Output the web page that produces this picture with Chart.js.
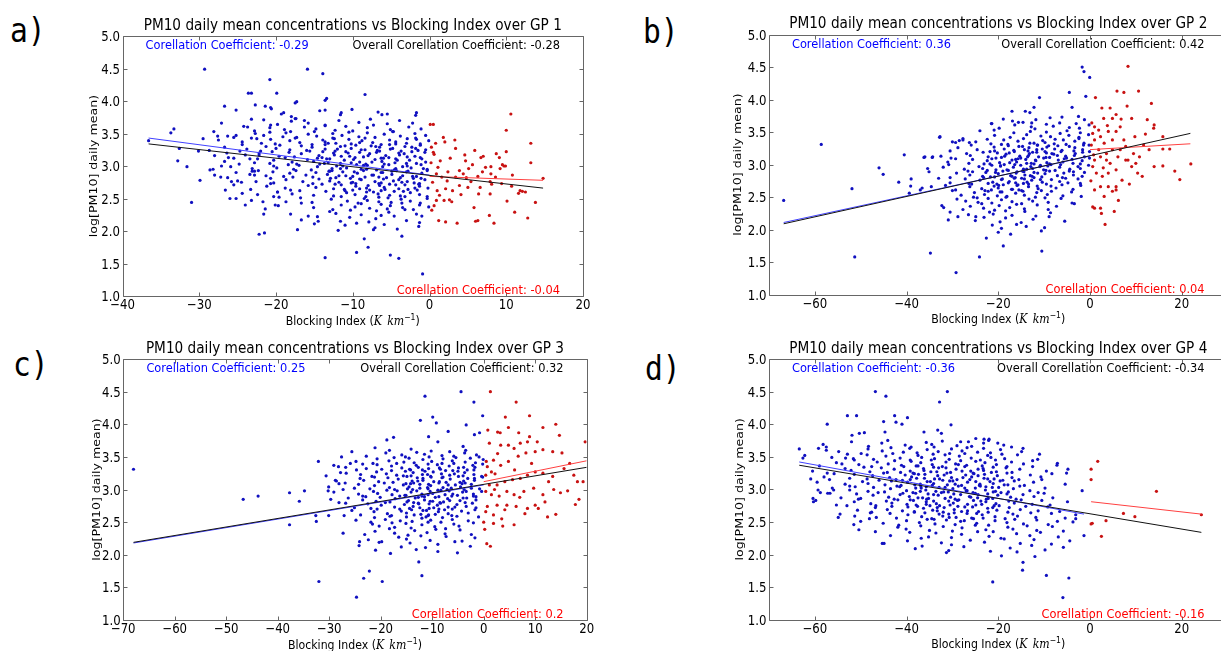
<!DOCTYPE html>
<html>
<head>
<meta charset="utf-8">
<script src="https://cdn.jsdelivr.net/npm/chart.js@4.4.1/dist/chart.umd.min.js"></script>
<style>
  body { margin: 0; width: 1221px; height: 651px; overflow: hidden; background: #fff; position: relative; }
  canvas { position: absolute; }
  .tag { position: absolute; font: 34px "DejaVu Sans Mono", monospace; line-height: 34px; color: #000; transform: scaleX(0.87); transform-origin: left top; }
</style>
</head>
<body>
<div class="tag" style="left:10px;top:13px">a)</div>
<div class="tag" style="left:643px;top:14px">b)</div>
<div class="tag" style="left:13px;top:347px">c)</div>
<div class="tag" style="left:645px;top:351px">d)</div>
<canvas id="gp1" width="610" height="330" style="left:0;top:0"></canvas>
<canvas id="gp2" width="620" height="330" style="left:620px;top:0"></canvas>
<canvas id="gp3" width="610" height="330" style="left:0;top:325px"></canvas>
<canvas id="gp4" width="620" height="330" style="left:620px;top:325px"></canvas>
<script>
// ---- tick labels / texts ----
const yTicks = [1.0, 1.5, 2.0, 2.5, 3.0, 3.5, 4.0, 4.5, 5.0];
const xTicks1 = [-40, -30, -20, -10, 0, 10, 20];
const xTicks2 = [-60, -40, -20, 0, 20];
const xTicks3 = [-70, -60, -50, -40, -30, -20, -10, 0, 10, 20];
const xTicks4 = [-60, -40, -20, 0, 20];
const xRanges = [[-40, 20], [-70, 30], [-70, 20], [-70, 30]];
const gpNames = ['GP 1', 'GP 2', 'GP 3', 'GP 4'];
const blueCoef = ['-0.29', '0.36', '0.25', '-0.36'];
const allCoef = ['-0.28', '0.42', '0.32', '-0.34'];
const redCoef = ['-0.04', '0.04', '0.2', '-0.16'];

// ---- GP 1 ----
const gp1Blue = [
  [-36.6,3.39],[-33.7,3.51],[-33.3,3.57],[-32.6,3.27],[-32.8,3.08],[-31.6,2.99],[-31.0,2.44],[-29.9,2.78],[-30.1,3.23],[-29.3,4.49],
  [-29.5,3.42],[-28.6,2.94],[-28.2,2.95],[-28.0,2.86],[-27.6,3.46],[-27.1,3.66],[-27.1,3.00],[-26.7,3.92],[-26.4,3.20],[-26.0,2.50],
  [-25.8,2.76],[-25.5,3.44],[-25.2,3.47],[-25.2,3.86],[-25.0,2.77],[-24.7,3.23],[-24.4,2.58],[-24.0,2.40],[-24.0,3.17],[-23.6,4.12],
  [-23.2,4.12],[-23.7,3.60],[-23.4,3.11],[-23.2,3.72],[-23.1,2.92],[-22.8,2.86],[-22.7,3.94],[-22.6,2.76],[-22.2,1.95],[-21.5,1.97],
  [-21.6,2.26],[-21.7,2.45],[-20.8,4.33],[-20.6,3.88],[-20.1,2.40],[-19.9,4.12],[-19.8,2.60],[-19.0,3.82],[-17.2,2.02],[-17.5,3.97],
  [-17.3,3.99],[-15.9,4.49],[-13.9,4.42],[-13.4,4.04],[-15.0,2.11],[-14.5,2.15],[-13.6,1.59],[-11.5,3.82],[-10.1,3.87],[-8.4,4.10],
  [-8.5,1.88],[-8.0,1.75],[-9.5,1.67],[-5.1,1.63],[-4.0,1.58],[-0.9,1.34],[-1.7,3.82],
  [-13.6,4.01],[-19.3,3.80],[-18.0,3.76],[-17.5,3.73],[-16.3,3.70],[-14.3,3.85],[-13.6,3.86],[-11.6,3.79],[-6.7,3.83],[-6.2,3.79],
  [-5.5,3.80],[-1.8,3.78],[-21.4,3.92],[-20.7,3.90],
  [-21.6,3.71],[-19.8,3.64],[-18.0,3.69],[-17.4,3.73],[-15.8,3.66],[-13.6,3.63],[-11.8,3.70],[-9.2,3.67],[-7.7,3.72],[-5.5,3.65],[-3.9,3.70],[-2.2,3.66],
  [-24.2,3.61],[-22.8,3.54],[-20.8,3.59],[-20.7,3.63],[-18.9,3.56],[-18.1,3.53],[-16.3,3.60],[-14.8,3.57],[-13.6,3.62],[-12.3,3.55],
  [-10.9,3.61],[-10.0,3.54],[-8.1,3.59],[-7.3,3.63],[-5.1,3.56],[-4.8,3.53],[-2.7,3.60],[-1.1,3.57],
  [-28.1,3.53],[-26.3,3.46],[-23.2,3.43],[-22.7,3.50],[-21.6,3.47],[-20.8,3.52],[-19.1,3.45],[-18.7,3.51],[-17.3,3.44],[-15.8,3.49],
  [-15.0,3.53],[-14.7,3.46],[-12.6,3.43],[-12.6,3.50],[-11.4,3.47],[-10.5,3.52],[-9.2,3.45],[-8.1,3.51],[-7.1,3.44],[-5.9,3.49],
  [-4.7,3.53],[-3.8,3.46],[-1.8,3.43],[-1.9,3.50],[-0.5,3.47],
  [-27.5,3.40],[-24.4,3.37],[-22.5,3.42],[-21.9,3.35],[-20.7,3.41],[-20.1,3.34],[-18.2,3.39],[-17.5,3.43],[-16.9,3.36],[-15.3,3.33],
  [-13.9,3.40],[-13.6,3.37],[-12.4,3.42],[-12.2,3.35],[-10.5,3.41],[-10.2,3.34],[-8.8,3.39],[-8.4,3.43],[-7.4,3.36],[-6.3,3.33],
  [-5.2,3.40],[-4.4,3.37],[-2.9,3.42],[-3.0,3.35],[-1.7,3.41],[-1.2,3.34],[-0.1,3.39],
  [-28.7,3.24],[-26.7,3.29],[-24.4,3.33],[-23.8,3.26],[-22.0,3.23],[-21.3,3.30],[-20.0,3.27],[-19.5,3.32],[-18.2,3.25],[-16.7,3.31],
  [-16.0,3.24],[-15.3,3.29],[-13.6,3.33],[-13.6,3.26],[-12.3,3.23],[-11.6,3.30],[-10.2,3.27],[-9.6,3.32],[-8.9,3.25],[-7.6,3.31],
  [-6.8,3.24],[-6.5,3.29],[-5.2,3.33],[-5.1,3.26],[-3.7,3.23],[-3.2,3.30],[-1.8,3.27],[-1.2,3.32],[-0.5,3.25],
  [-28.0,3.16],[-26.2,3.13],[-22.2,3.20],[-22.2,3.17],[-20.5,3.22],[-19.6,3.15],[-18.3,3.21],[-17.6,3.14],[-16.7,3.19],[-15.6,3.23],
  [-14.4,3.16],[-14.0,3.13],[-12.5,3.20],[-12.4,3.17],[-10.9,3.22],[-10.4,3.15],[-9.1,3.21],[-8.6,3.14],[-7.8,3.19],[-6.5,3.23],
  [-5.7,3.16],[-5.3,3.13],[-4.0,3.20],[-3.9,3.17],[-2.3,3.22],[-1.9,3.15],[-0.6,3.21],
  [-26.7,3.07],[-25.5,3.12],[-22.8,3.05],[-22.4,3.11],[-20.8,3.04],[-20.3,3.09],[-18.8,3.13],[-17.9,3.06],[-17.3,3.03],[-15.9,3.10],
  [-15.1,3.07],[-14.6,3.12],[-13.2,3.05],[-13.0,3.11],[-11.6,3.04],[-11.1,3.09],[-9.7,3.13],[-9.1,3.06],[-8.3,3.03],[-7.1,3.10],
  [-6.2,3.07],[-6.0,3.12],[-4.5,3.05],[-4.4,3.11],[-3.0,3.04],[-2.6,3.09],[-1.2,3.13],[-0.5,3.06],
  [-25.9,2.99],[-24.8,3.03],[-23.1,2.96],[-22.3,2.93],[-20.3,3.00],[-19.9,2.97],[-18.4,3.02],[-17.7,2.95],[-17.0,3.01],[-15.4,2.94],
  [-14.6,2.99],[-14.3,3.03],[-12.7,2.96],[-12.7,2.93],[-11.3,3.00],[-10.8,2.97],[-9.5,3.02],[-8.9,2.95],[-8.1,3.01],[-6.9,2.94],
  [-6.1,2.99],[-5.9,3.03],[-4.4,2.96],[-4.3,2.93],[-2.9,3.00],[-2.4,2.97],[-1.1,3.02],[-0.3,2.95],
  [-27.2,2.83],[-25.2,2.90],[-23.4,2.87],[-22.8,2.92],[-21.3,2.85],[-20.4,2.91],[-19.0,2.84],[-18.2,2.89],[-17.4,2.93],[-16.1,2.86],
  [-15.2,2.83],[-14.8,2.90],[-13.3,2.87],[-13.1,2.92],[-11.8,2.85],[-11.3,2.91],[-10.0,2.84],[-9.4,2.89],[-8.6,2.93],[-7.3,2.86],
  [-6.6,2.83],[-6.3,2.90],[-4.9,2.87],[-4.9,2.92],[-3.5,2.85],[-3.0,2.91],[-1.7,2.84],[-1.0,2.89],[-0.3,2.93],
  [-26.3,2.82],[-24.5,2.75],[-20.7,2.81],[-20.3,2.74],[-18.7,2.79],[-17.8,2.83],[-16.5,2.76],[-15.2,2.73],[-14.4,2.80],[-13.0,2.77],
  [-12.2,2.82],[-11.8,2.75],[-10.3,2.81],[-10.2,2.74],[-8.9,2.79],[-8.4,2.83],[-7.1,2.76],[-6.6,2.73],[-6.0,2.80],[-4.7,2.77],
  [-3.8,2.82],[-3.6,2.75],[-2.1,2.81],[-2.0,2.74],[-0.6,2.79],
  [-25.5,2.71],[-23.3,2.64],[-21.2,2.69],[-20.7,2.73],[-18.8,2.66],[-18.1,2.63],[-15.8,2.70],[-14.8,2.67],[-14.0,2.72],[-12.5,2.65],
  [-11.5,2.71],[-11.1,2.64],[-9.6,2.69],[-9.6,2.73],[-8.2,2.66],[-7.8,2.63],[-6.5,2.70],[-5.9,2.67],[-5.2,2.72],[-4.0,2.65],
  [-3.2,2.71],[-2.8,2.64],[-1.3,2.69],[-1.3,2.73],[-0.2,2.66],
  [-26.6,2.63],[-22.4,2.56],[-20.3,2.53],[-19.8,2.60],[-17.9,2.57],[-16.9,2.62],[-15.1,2.55],[-13.5,2.61],[-12.5,2.54],[-10.8,2.59],
  [-10.0,2.63],[-9.7,2.56],[-8.3,2.53],[-8.2,2.60],[-6.7,2.57],[-6.3,2.62],[-5.2,2.55],[-4.6,2.61],[-3.8,2.54],[-2.5,2.59],
  [-1.6,2.63],[-1.3,2.56],[-0.3,2.53],
  [-25.2,2.50],[-23.2,2.47],[-19.6,2.52],[-18.7,2.45],[-16.8,2.51],[-15.3,2.44],[-12.8,2.49],[-11.5,2.53],[-10.7,2.46],[-9.3,2.43],
  [-8.5,2.50],[-8.1,2.47],[-6.6,2.52],[-6.6,2.45],[-5.4,2.51],[-5.0,2.44],[-3.7,2.49],[-3.2,2.53],[-2.5,2.46],[-1.2,2.43],[-0.3,2.50],
  [-21.4,2.34],[-19.7,2.39],[-16.7,2.43],[-15.1,2.36],[-12.6,2.33],[-11.5,2.40],[-9.7,2.37],[-8.9,2.42],[-7.8,2.35],[-6.3,2.41],
  [-5.5,2.34],[-5.1,2.39],[-3.6,2.43],[-3.5,2.36],[-2.1,2.33],[-1.3,2.40],[-0.1,2.37],
  [-18.1,2.26],[-15.8,2.23],[-13.0,2.30],[-12.2,2.27],[-10.3,2.32],[-8.9,2.25],[-6.9,2.31],[-6.3,2.24],[-5.3,2.29],[-3.2,2.33],[-1.7,2.26],[-1.0,2.23],
  [-16.7,2.17],[-14.6,2.22],[-11.6,2.15],[-10.4,2.21],[-7.9,2.14],[-7.0,2.19],[-4.6,2.23],[-3.0,2.16],[-1.3,2.13],
  [-11.0,2.09],[-9.5,2.12],[-7.1,2.05],[-5.9,2.10],[-1.4,2.07],[-11.9,2.01],[-7.3,2.02],[-4.2,2.03],[-3.6,1.92],
  // dense core
  [-13.2,3.35],[-11.0,3.31],[-9.1,3.36],[-7.0,3.30],[-4.4,3.34],[-2.3,3.29],
  [-13.9,3.22],[-12.0,3.26],[-10.6,3.20],[-8.4,3.25],[-6.9,3.21],[-4.8,3.27],[-3.3,3.19],[-1.5,3.24],
  [-13.4,3.11],[-11.5,3.15],[-9.9,3.10],[-8.0,3.16],[-6.3,3.12],[-4.2,3.09],[-2.9,3.14],[-1.0,3.11],
  [-13.7,3.04],[-12.1,3.00],[-10.2,3.05],[-8.6,3.01],[-7.5,3.06],[-5.3,3.02],[-3.5,2.99],[-1.7,3.04],
  [-13.0,2.92],[-11.6,2.96],[-9.8,2.91],[-8.2,2.95],[-6.1,2.90],[-4.6,2.94],[-2.8,2.92],[-0.8,2.96],
  [-12.9,2.81],[-10.9,2.85],[-9.1,2.80],[-7.5,2.86],[-5.6,2.82],[-4.0,2.79],[-2.2,2.84],[-1.1,2.81],
  [-12.3,2.72],[-10.0,2.75],[-8.0,2.70],[-6.3,2.74],[-4.4,2.71],[-2.9,2.76],[-1.4,2.72],
  [-11.0,2.62],[-9.1,2.65],[-7.3,2.60],[-5.8,2.64],[-3.4,2.61],[-1.9,2.66]
];
const gp1Red = [
  [0.1,3.64],[0.5,3.64],[0.25,3.29],[0.5,3.21],[1.8,3.44],[2.0,3.37],[3.3,3.40],[3.4,3.27],[10.6,3.80],[10.0,3.55],
  [8.7,3.19],[10.0,3.22],[13.2,3.35],[13.2,3.05],[14.8,2.81],[13.8,2.44],[12.8,2.20],[11.1,2.29],[8.4,2.12],[7.8,2.24],
  [6.3,2.16],[6.0,2.15],[3.6,2.12],[2.1,2.14],[1.2,2.16],[5.8,2.36],[10.1,2.46],[9.4,2.73],[11.8,2.62],[12.1,2.61],
  [11.6,2.58],[12.5,2.60],[10.7,2.69],[5.9,3.24],[7.0,3.15],[6.7,3.13],[4.6,3.17],[4.7,3.08],[7.3,2.98],[9.5,3.02],
  [9.7,3.00],[8.0,2.99],[8.0,2.88],[7.9,2.76],[6.3,2.84],[4.8,2.82],[3.9,2.70],[3.0,2.62],[2.1,2.65],[1.0,2.62],
  [0.9,2.47],[0.6,2.39],[0.3,2.32],[2.6,2.48],[2.9,2.45],[1.9,2.47],[6.6,2.67],[5.0,2.67],[6.4,2.57],[7.9,2.57],
  [10.8,2.86],[9.2,2.96],[3.9,2.93],[1.1,2.98],[1.4,3.08],[0.6,3.18],[0.9,2.88],[1.6,2.83],[2.4,2.91],[3.4,2.83],
  [4.4,2.88],[5.1,2.96],[5.4,2.76],[6.9,2.91],[8.6,2.83],[9.9,3.00],[9.1,3.13],[8.1,2.72],[0.2,3.05],[0.4,2.75],
  [1.3,2.55],[2.7,3.12],[0.8,3.35],[2.3,2.77],[4.1,2.56],[5.6,3.02]
];
const gp1FitBlue = [[-36.6,3.43],[0,2.86]];
const gp1FitRed = [[0,2.84],[14.8,2.78]];
const gp1FitAll = [[-36.6,3.34],[14.8,2.66]];

// ---- GP 2 ----
const gp2Blue = [
  [-66.8,2.45],[-58.6,3.31],[-51.9,2.63],[-51.3,1.58],[-46.0,2.95],[-45.1,2.85],[-41.7,2.73],[-40.5,3.15],[-39.0,2.78],[-39.1,2.67],
  [-39.4,2.56],[-37.0,2.61],[-36.6,2.64],[-36.0,3.12],[-35.4,2.94],[-35.1,2.89],[-34.6,2.66],[-34.3,3.12],[-32.7,3.43],[-32.3,2.37],
  [-31.9,2.34],[-30.9,2.15],[-30.5,2.27],[-28.8,2.20],[-27.7,3.38],[-30.0,3.35],[-34.8,1.64],[-24.1,1.58],[-29.2,1.34],[-18.9,1.75],
  [-10.5,1.67],[-22.6,1.87],[-1.7,4.50],[-1.3,4.43],[-0.05,4.34],[-4.5,4.11],[-11.0,4.03],[-0.9,4.05],[-14.1,3.82],[-13.1,3.80],
  [-12.2,3.88],[-17.0,3.82],[-21.4,3.63],[-20.9,3.53],[-18.9,3.70],[-16.9,3.67],[-14.6,3.65],[-12.7,3.64],[-11.8,3.69],[-8.7,3.72],
  [-6.1,3.73],[-3.9,3.88],[-2.5,3.74],[-1.2,3.69],[-32.8,3.42],[-29.3,3.34],[-27.7,3.40],[-24.9,3.35],[-36.2,3.11],[-34.4,3.11],
  [-21.5,3.63],[-19.8,3.56],[-16.4,3.61],[-15.6,3.65],[-12.8,3.58],[-12.0,3.55],[-9.5,3.62],[-8.0,3.59],[-6.6,3.64],[-4.5,3.57],[-3.0,3.63],[-2.3,3.56],[-0.2,3.61],
  [-24.0,3.52],[-20.8,3.45],[-17.4,3.42],[-16.6,3.49],[-13.8,3.46],[-13.0,3.51],[-10.7,3.44],[-9.5,3.50],[-8.6,3.43],[-6.5,3.48],
  [-5.0,3.52],[-4.6,3.45],[-2.4,3.42],[-2.1,3.49],[-0.3,3.46],
  [-28.5,3.37],[-26.3,3.34],[-22.4,3.39],[-21.6,3.32],[-18.8,3.38],[-17.9,3.31],[-15.7,3.36],[-14.5,3.40],[-13.1,3.33],[-11.5,3.30],
  [-10.3,3.37],[-9.8,3.34],[-7.6,3.39],[-7.8,3.32],[-5.8,3.38],[-5.2,3.31],[-3.3,3.36],[-2.4,3.40],[-1.3,3.33],[-0.2,3.30],
  [-30.5,3.21],[-28.8,3.26],[-25.9,3.30],[-24.6,3.23],[-21.8,3.20],[-20.9,3.27],[-18.7,3.24],[-17.8,3.29],[-16.6,3.22],[-14.7,3.28],
  [-13.5,3.21],[-13.3,3.26],[-11.4,3.30],[-11.6,3.23],[-9.8,3.20],[-9.4,3.27],[-7.7,3.24],[-7.0,3.29],[-6.1,3.22],[-4.5,3.28],
  [-3.5,3.21],[-3.3,3.26],[-1.4,3.30],[-1.6,3.23],[-0.1,3.20],
  [-32.5,3.13],[-30.3,3.10],[-26.9,3.17],[-26.1,3.14],[-23.3,3.19],[-22.2,3.12],[-20.2,3.18],[-19.3,3.11],[-18.3,3.16],[-16.5,3.20],
  [-15.3,3.13],[-15.1,3.10],[-13.2,3.17],[-13.4,3.14],[-11.6,3.19],[-11.2,3.12],[-9.5,3.18],[-8.8,3.11],[-7.9,3.16],[-6.3,3.20],
  [-5.3,3.13],[-5.1,3.10],[-3.2,3.17],[-3.4,3.14],[-1.6,3.19],[-1.2,3.12],
  [-31.0,3.04],[-29.3,3.09],[-26.4,3.02],[-25.6,3.08],[-23.1,3.01],[-22.4,3.06],[-20.5,3.10],[-19.7,3.03],[-18.7,3.00],[-17.0,3.07],
  [-16.0,3.04],[-15.7,3.09],[-13.8,3.02],[-14.0,3.08],[-12.2,3.01],[-11.8,3.06],[-10.1,3.10],[-9.4,3.03],[-8.5,3.00],[-6.9,3.07],
  [-5.9,3.04],[-5.6,3.09],[-3.7,3.02],[-3.9,3.08],[-2.1,3.01],[-1.7,3.06],[-0.1,3.10],
  [-32.0,2.96],[-30.8,3.00],[-27.4,2.93],[-26.6,2.90],[-24.2,2.97],[-23.4,2.94],[-21.4,2.99],[-20.5,2.92],[-19.5,2.98],[-17.8,2.91],
  [-16.7,2.96],[-16.4,3.00],[-14.5,2.93],[-14.7,2.90],[-12.9,2.97],[-12.5,2.94],[-10.8,2.99],[-10.1,2.92],[-9.2,2.98],[-7.6,2.91],
  [-6.6,2.96],[-6.4,3.00],[-4.4,2.93],[-4.5,2.90],[-2.6,2.97],[-2.1,2.94],[-0.3,2.99],
  [-30.5,2.80],[-29.1,2.87],[-26.2,2.84],[-25.6,2.89],[-23.4,2.82],[-22.7,2.88],[-20.8,2.81],[-20.0,2.86],[-19.0,2.90],[-17.3,2.83],
  [-16.3,2.80],[-16.1,2.87],[-14.2,2.84],[-14.4,2.89],[-12.6,2.82],[-12.2,2.88],[-10.5,2.81],[-9.8,2.86],[-8.8,2.90],[-7.1,2.83],
  [-6.0,2.80],[-5.7,2.87],[-3.6,2.84],[-3.6,2.89],[-1.7,2.82],[-1.2,2.88],
  [-33.0,2.79],[-30.5,2.72],[-27.2,2.78],[-26.4,2.71],[-24.0,2.76],[-23.2,2.80],[-21.2,2.73],[-20.3,2.70],[-19.3,2.77],[-17.6,2.74],
  [-16.5,2.79],[-16.2,2.72],[-14.3,2.78],[-14.5,2.71],[-12.7,2.76],[-12.2,2.80],[-10.4,2.73],[-9.5,2.70],[-8.4,2.77],[-6.6,2.74],
  [-5.3,2.79],[-4.8,2.72],[-2.6,2.78],[-2.1,2.71],
  [-31.5,2.68],[-29.3,2.61],[-26.2,2.66],[-25.8,2.70],[-23.6,2.63],[-22.9,2.60],[-20.9,2.67],[-20.0,2.64],[-18.9,2.69],[-17.1,2.62],
  [-15.9,2.68],[-15.5,2.61],[-13.4,2.66],[-13.4,2.70],[-11.3,2.63],[-10.6,2.60],[-8.5,2.67],[-7.4,2.64],[-6.1,2.69],[-3.7,2.62],[-2.0,2.68],
  [-30.0,2.60],[-28.1,2.53],[-25.4,2.50],[-25.2,2.57],[-23.0,2.54],[-22.2,2.59],[-20.2,2.52],[-19.2,2.58],[-18.1,2.51],[-16.2,2.56],
  [-14.9,2.60],[-14.3,2.53],[-11.9,2.50],[-11.6,2.57],[-9.3,2.54],[-8.4,2.59],[-5.9,2.52],[-4.0,2.58],[-1.9,2.51],
  [-29.0,2.47],[-27.1,2.44],[-24.6,2.49],[-24.4,2.42],[-22.2,2.48],[-21.4,2.41],[-19.3,2.46],[-18.3,2.50],[-17.0,2.43],[-14.9,2.40],
  [-13.3,2.47],[-12.5,2.44],[-9.8,2.49],[-9.1,2.42],[-6.3,2.48],[-3.9,2.41],
  [-27.7,2.31],[-26.1,2.36],[-23.6,2.40],[-23.2,2.33],[-20.8,2.30],[-19.8,2.37],[-17.5,2.34],[-16.0,2.39],[-14.3,2.32],[-11.5,2.38],
  [-9.1,2.31],[-7.3,2.36],[-3.4,2.40],
  [-26.5,2.23],[-24.9,2.20],[-21.9,2.27],[-21.1,2.24],[-18.4,2.29],[-17.0,2.22],[-14.2,2.28],[-11.8,2.21],[-8.6,2.26],
  [-25.0,2.14],[-23.1,2.19],[-19.6,2.12],[-18.4,2.18],[-15.0,2.11],[-12.4,2.16],[-8.9,2.20],[-5.5,2.13],
  [-21.3,2.07],[-19.3,2.02],[-16.0,2.08],[-13.9,2.05],[-9.9,2.03],[-20.0,1.96],[-17.3,1.93],[-10.6,1.98],
  // dense core
  [-19.3,3.31],[-15.5,3.28],[-12.2,3.33],[-9.0,3.29],
  [-20.8,3.21],[-17.6,3.18],[-14.3,3.23],[-12.5,3.19],[-10.4,3.24],[-8.3,3.17],
  [-21.4,3.09],[-18.6,3.13],[-16.2,3.08],[-13.6,3.12],[-11.9,3.07],[-9.6,3.11],[-7.1,3.14],
  [-21.8,3.01],[-19.5,2.98],[-17.5,3.03],[-15.1,2.99],[-12.8,3.02],[-10.9,2.97],[-8.8,3.01],
  [-22.4,2.91],[-20.6,2.88],[-18.1,2.92],[-15.9,2.89],[-13.8,2.93],[-11.4,2.87],[-9.6,2.91],
  [-21.7,2.81],[-19.1,2.78],[-17.0,2.82],[-14.9,2.79],[-13.0,2.83],[-10.8,2.77],
  [-22.2,2.71],[-19.9,2.68],[-17.8,2.72],[-15.7,2.69],[-13.7,2.73],[-11.5,2.67],
  [-21.5,2.61],[-19.6,2.58],[-16.9,2.62],[-14.6,2.59]
];
const gp2Red = [
  [8.3,4.51],[5.9,4.13],[7.4,4.11],[10.6,4.13],[13.4,3.94],[1.2,4.03],[2.6,3.87],[4.4,3.87],[3.0,3.71],[4.9,3.71],
  [5.7,3.77],[6.8,3.70],[9.1,3.71],[12.5,3.69],[14.0,3.61],[13.9,3.56],[15.9,3.43],[11.7,3.30],[12.9,3.23],[15.9,3.24],
  [17.4,3.24],[14.0,2.97],[15.9,2.98],[18.5,2.90],[19.6,2.77],[22.0,3.01],[11.4,2.82],[10.4,2.87],[9.1,2.97],[7.8,3.07],
  [6.1,3.12],[4.9,3.23],[3.1,3.33],[1.0,3.38],[0.6,3.48],[1.0,3.58],[1.9,3.53],[0.4,3.64],[2.3,3.43],[4.0,3.51],
  [5.7,3.51],[6.6,3.58],[7.4,3.38],[4.9,3.38],[3.6,3.17],[2.3,3.12],[1.0,3.07],[0.6,2.97],[1.4,2.87],[2.7,2.82],
  [4.0,2.87],[5.7,2.92],[7.0,2.76],[5.7,2.66],[4.0,2.66],[2.3,2.66],[1.0,2.61],[4.9,2.59],[3.1,2.51],[5.7,2.61],
  [0.6,2.35],[1.0,2.33],[2.3,2.33],[2.5,2.25],[5.3,2.28],[3.3,2.08],[8.3,3.07],[9.5,3.17],[10.0,3.02],[10.8,3.12],
  [3.6,3.07],[4.4,3.02],[1.9,3.23],[6.6,3.23],[7.8,3.28],[0.3,3.30],[0.8,3.15],[2.9,2.95],[8.6,2.70],[6.2,2.45],
  [12.1,3.47],[9.8,3.43],[0.2,2.75],[3.8,3.60],[8.1,3.90]
];
const gp2FitBlue = [[-66.8,2.11],[0,3.13]];
const gp2FitRed = [[0,3.23],[21.9,3.32]];
const gp2FitAll = [[-66.8,2.09],[21.9,3.48]];

// ---- GP 3 ----
const gp3Blue = [
  [-68.0,3.31],[-46.7,2.85],[-43.8,2.90],[-37.7,2.95],[-37.7,2.46],[-35.8,2.82],[-34.8,2.98],[-32.6,2.60],[-32.5,2.51],[-32.1,3.43],
  [-32.0,1.59],[-30.2,2.98],[-29.7,2.85],[-30.1,2.60],[-28.8,3.14],[-28.2,3.35],[-27.3,2.33],[-26.7,3.25],[-25.9,3.40],[-24.1,2.20],
  [-24.7,1.35],[-23.3,1.64],[-22.2,1.75],[-21.1,3.64],[-19.7,1.59],[-12.6,1.89],[-12.0,1.68],[-11.4,4.43],[-9.9,4.11],[-12.3,4.06],
  [-4.4,4.50],[-1.9,4.34],[-0.2,4.13],[-5.1,2.03],[-18.8,3.76],[-17.5,3.80],[-10.7,3.81],[-6.9,3.89],[-3.4,3.99],[-9.2,4.02],
  [-0.8,3.87],[-1.8,3.84],[-8.9,3.73],[-4.0,3.66],[-14.1,3.62],
  [-25.6,3.58],[-22.8,3.51],[-19.0,3.56],[-18.3,3.60],[-15.9,3.53],[-15.2,3.50],[-13.0,3.57],[-11.5,3.54],[-10.2,3.59],[-8.1,3.52],
  [-6.6,3.58],[-5.8,3.51],[-3.7,3.56],[-3.5,3.60],[-1.4,3.53],[-0.9,3.50],
  [-27.6,3.50],[-24.8,3.43],[-21.5,3.40],[-20.7,3.47],[-18.4,3.44],[-17.4,3.49],[-15.5,3.42],[-14.5,3.48],[-13.5,3.41],[-11.8,3.46],
  [-10.6,3.50],[-10.1,3.43],[-8.1,3.40],[-7.9,3.47],[-6.1,3.44],[-5.4,3.49],[-3.6,3.42],[-2.6,3.48],[-1.6,3.41],[-0.1,3.46],
  [-29.1,3.37],[-26.8,3.34],[-23.5,3.39],[-22.8,3.32],[-20.7,3.38],[-19.8,3.31],[-17.9,3.36],[-16.9,3.40],[-15.9,3.33],[-14.2,3.30],
  [-13.1,3.37],[-12.7,3.34],[-10.8,3.39],[-10.7,3.32],[-9.0,3.38],[-8.4,3.31],[-6.7,3.36],[-5.8,3.40],[-4.9,3.33],[-3.2,3.30],
  [-2.1,3.37],[-1.7,3.34],[-0.2,3.39],
  [-30.6,3.21],[-27.8,3.26],[-24.7,3.30],[-23.9,3.23],[-21.7,3.20],[-20.8,3.27],[-18.9,3.24],[-17.9,3.29],[-16.9,3.22],[-15.2,3.28],
  [-14.1,3.21],[-13.7,3.26],[-11.9,3.30],[-11.9,3.23],[-10.3,3.20],[-9.8,3.27],[-8.2,3.24],[-7.4,3.29],[-6.6,3.22],[-5.0,3.28],
  [-4.0,3.21],[-3.7,3.26],[-1.9,3.30],[-1.9,3.23],[-0.4,3.20],
  [-28.6,3.13],[-26.9,3.10],[-24.0,3.17],[-23.3,3.14],[-21.2,3.19],[-20.4,3.12],[-18.6,3.18],[-17.6,3.11],[-16.6,3.16],[-14.9,3.20],
  [-13.9,3.13],[-13.6,3.10],[-11.8,3.17],[-11.8,3.14],[-10.2,3.19],[-9.7,3.12],[-8.1,3.18],[-7.3,3.11],[-6.5,3.16],[-4.9,3.20],
  [-3.9,3.13],[-3.6,3.10],[-1.8,3.17],[-1.8,3.14],[-0.2,3.19],
  [-30.1,3.04],[-28.1,3.09],[-25.1,3.02],[-24.3,3.08],[-22.1,3.01],[-21.2,3.06],[-19.3,3.10],[-18.3,3.03],[-17.3,3.00],[-15.6,3.07],
  [-14.5,3.04],[-14.2,3.09],[-12.4,3.02],[-12.4,3.08],[-10.8,3.01],[-10.3,3.06],[-8.7,3.10],[-7.9,3.03],[-7.1,3.00],[-5.5,3.07],
  [-4.5,3.04],[-4.2,3.09],[-2.4,3.02],[-2.4,3.08],[-0.8,3.01],
  [-29.1,2.96],[-27.3,3.00],[-24.3,2.93],[-23.5,2.90],[-21.4,2.97],[-20.6,2.94],[-18.8,2.99],[-17.8,2.92],[-16.8,2.98],[-15.1,2.91],
  [-14.1,2.96],[-13.8,3.00],[-12.0,2.93],[-12.0,2.90],[-10.4,2.97],[-9.9,2.94],[-8.3,2.99],[-7.5,2.92],[-6.7,2.98],[-5.1,2.91],
  [-4.1,2.96],[-3.8,3.00],[-2.0,2.93],[-2.0,2.90],[-0.4,2.97],
  [-28.1,2.80],[-26.3,2.87],[-23.5,2.84],[-22.9,2.89],[-20.9,2.82],[-20.1,2.88],[-18.2,2.81],[-17.2,2.86],[-16.3,2.90],[-14.6,2.83],
  [-13.6,2.80],[-13.3,2.87],[-11.5,2.84],[-11.5,2.89],[-9.9,2.82],[-9.4,2.88],[-7.8,2.81],[-7.0,2.86],[-6.2,2.90],[-4.6,2.83],
  [-3.6,2.80],[-3.3,2.87],[-1.5,2.84],[-1.5,2.89],
  [-26.8,2.79],[-25.1,2.72],[-22.5,2.78],[-21.9,2.71],[-19.9,2.76],[-19.1,2.80],[-17.3,2.73],[-16.3,2.70],[-15.4,2.77],[-13.7,2.74],
  [-12.7,2.79],[-12.4,2.72],[-10.6,2.78],[-10.6,2.71],[-9.0,2.76],[-8.5,2.80],[-6.9,2.73],[-6.1,2.70],[-5.2,2.77],[-3.4,2.74],
  [-2.2,2.79],[-1.5,2.72],
  [-25.6,2.68],[-23.9,2.61],[-21.3,2.66],[-20.7,2.70],[-18.7,2.63],[-17.9,2.60],[-16.0,2.67],[-15.0,2.64],[-14.0,2.69],[-12.2,2.62],
  [-11.1,2.68],[-10.7,2.61],[-8.8,2.66],[-8.7,2.70],[-6.9,2.63],[-6.2,2.60],[-4.3,2.67],[-3.0,2.64],[-1.7,2.69],
  [-27.1,2.60],[-24.8,2.53],[-21.9,2.50],[-21.2,2.57],[-19.1,2.54],[-18.2,2.59],[-16.2,2.52],[-15.0,2.58],[-13.9,2.51],[-12.0,2.56],
  [-10.8,2.60],[-10.3,2.53],[-8.3,2.50],[-8.0,2.57],[-6.1,2.54],[-5.2,2.59],[-3.0,2.52],[-1.0,2.58],
  [-21.6,2.47],[-20.3,2.44],[-17.8,2.49],[-17.3,2.42],[-15.1,2.48],[-14.1,2.41],[-12.0,2.46],[-10.8,2.50],[-9.5,2.43],[-7.4,2.40],
  [-5.8,2.47],[-4.8,2.44],[-2.0,2.49],
  [-23.1,2.31],[-21.1,2.36],[-18.3,2.40],[-17.3,2.33],[-14.7,2.30],[-13.4,2.37],[-11.0,2.34],[-9.3,2.39],[-7.5,2.32],[-4.6,2.38],[-2.4,2.31],
  [-22.4,2.23],[-19.8,2.20],[-16.5,2.27],[-15.0,2.24],[-12.2,2.29],[-10.4,2.22],[-7.3,2.28],[-4.2,2.21],[-1.7,2.26],
  [-24.2,2.14],[-20.3,2.19],[-16.0,2.12],[-14.3,2.18],[-11.3,2.11],[-8.9,2.16],[-5.6,2.20],[-2.6,2.13],
  [-21.0,2.07],[-18.1,2.02],[-13.1,2.08],[-8.9,2.05],
  // dense core
  [-14.4,3.31],[-11.4,3.28],[-8.6,3.33],[-6.0,3.29],[-3.9,3.34],
  [-15.6,3.21],[-12.9,3.18],[-10.9,3.23],[-7.9,3.19],[-5.7,3.24],[-3.1,3.17],
  [-15.1,3.09],[-12.8,3.13],[-10.7,3.08],[-8.6,3.12],[-6.9,3.07],[-4.6,3.11],
  [-14.8,3.01],[-13.0,2.98],[-10.9,3.03],[-8.9,2.99],[-6.3,3.02],[-3.4,2.97],
  [-15.3,2.91],[-12.7,2.88],[-10.8,2.92],[-8.7,2.89],[-6.0,2.93],[-4.0,2.87],
  [-14.9,2.81],[-12.6,2.78],[-10.4,2.82],[-8.4,2.79],[-6.6,2.83],
  [-14.4,2.71],[-11.8,2.68],[-9.7,2.72],[-7.6,2.69],[-5.6,2.73],
  [-13.5,2.61],[-11.2,2.58],[-9.4,2.62]
];
const gp3Red = [
  [1.3,4.50],[6.3,4.34],[8.9,4.13],[4.2,4.11],[0.8,3.91],[2.7,3.88],[3.2,3.87],[4.8,3.95],[6.8,3.87],[11.5,3.95],
  [14.0,4.00],[14.7,3.83],[19.7,3.73],[8.9,3.81],[8.5,3.73],[10.4,3.73],[7.1,3.71],[5.9,3.63],[4.8,3.68],[3.3,3.68],
  [1.1,3.71],[2.7,3.55],[1.9,3.45],[0.5,3.43],[0.7,3.35],[1.5,3.27],[0.4,3.22],[3.3,3.37],[4.8,3.43],[6.7,3.51],
  [8.2,3.56],[10.0,3.58],[11.5,3.61],[13.4,3.58],[15.2,3.56],[16.7,3.40],[15.6,3.32],[17.5,3.22],[18.2,3.12],[19.3,3.12],
  [13.4,3.20],[11.5,3.25],[10.0,3.27],[8.5,3.22],[7.1,3.17],[5.6,3.15],[4.1,3.12],[2.6,3.07],[1.1,3.07],[0.4,2.97],
  [1.5,2.92],[3.0,2.90],[4.5,2.97],[5.9,2.92],[7.8,2.97],[9.7,3.02],[11.5,2.92],[13.6,3.00],[14.9,2.95],[11.9,2.81],
  [10.0,2.76],[8.5,2.71],[6.3,2.74],[4.5,2.76],[2.6,2.76],[0.7,2.74],[0.4,2.66],[1.9,2.61],[4.1,2.69],[5.9,2.46],
  [8.0,2.63],[10.6,2.71],[12.4,2.58],[14.0,2.62],[17.8,2.77],[18.5,2.85],[0.2,2.39],[0.6,2.17],[1.3,2.13],[1.9,2.48],
  [3.7,2.44],[0.0,2.50],[2.2,3.24],[6.0,3.30],[9.3,3.40],[12.6,3.12],[3.5,2.55],[16.3,2.98],[7.0,2.88],[2.1,3.00]
];
const gp3FitBlue = [[-68,2.18],[0,3.07]];
const gp3FitRed = [[0,3.12],[20,3.44]];
const gp3FitAll = [[-68,2.19],[20,3.34]];

// ---- GP 4 ----
const gp4Blue = [
  [-63.4,3.62],[-62.6,3.48],[-60.9,3.16],[-60.4,2.86],[-60.3,2.81],[-59.3,2.99],[-59.2,3.63],[-58.2,3.69],[-57.5,3.60],[-57.3,4.00],
  [-57.2,2.94],[-55.9,2.99],[-54.9,2.57],[-54.1,3.39],[-53.3,3.48],[-52.9,4.13],[-50.9,4.13],[-51.9,3.83],[-50.3,3.86],[-49.2,3.87],
  [-46.8,4.50],[-44.5,4.43],[-42.6,4.13],[-39.8,4.10],[-32.8,4.34],[-31.1,4.50],[-30.3,3.99],[-45.0,4.04],[-42.3,4.03],[-41.0,4.00],
  [-44.7,3.88],[-36.2,3.88],[-33.2,3.91],[-32.4,3.86],[-28.2,3.73],[-24.9,3.78],[-23.1,3.77],[-22.0,3.77],[-20.1,3.71],[-14.6,3.63],
  [-11.0,3.54],[-7.1,3.40],[-4.8,3.31],[-1.7,2.98],[-3.7,2.50],[-4.4,2.21],[-1.3,2.29],[-45.3,2.17],[-44.9,2.17],[-21.2,1.58],
  [-14.6,1.88],[-14.7,1.76],[-9.5,1.68],[-5.9,1.34],[-4.6,1.64],
  [-52.0,3.73],[-48.3,3.66],[-45.4,3.71],[-44.1,3.75],[-40.3,3.68],[-39.0,3.65],[-35.7,3.72],[-34.5,3.69],[-32.2,3.74],[-29.0,3.67],
  [-26.5,3.73],[-25.8,3.66],[-23.2,3.71],[-22.1,3.75],[-18.8,3.68],
  [-57.5,3.65],[-54.8,3.58],[-49.9,3.55],[-48.4,3.62],[-45.3,3.59],[-43.4,3.64],[-40.7,3.57],[-39.3,3.63],[-37.7,3.56],[-35.5,3.61],
  [-34.0,3.65],[-33.1,3.58],[-30.6,3.55],[-30.2,3.62],[-27.9,3.59],[-26.8,3.64],[-24.5,3.57],[-23.2,3.63],[-21.7,3.56],[-19.5,3.61],
  [-17.1,3.65],[-14.9,3.58],
  [-62.2,3.52],[-56.3,3.49],[-52.9,3.54],[-51.6,3.47],[-48.6,3.53],[-47.2,3.46],[-44.5,3.51],[-43.0,3.55],[-41.4,3.48],[-39.2,3.45],
  [-37.5,3.52],[-36.7,3.49],[-34.2,3.54],[-33.9,3.47],[-31.6,3.53],[-30.7,3.46],[-28.5,3.51],[-27.3,3.55],[-25.9,3.48],[-23.9,3.45],
  [-22.3,3.52],[-21.6,3.49],[-19.2,3.54],[-18.6,3.47],[-15.8,3.53],[-11.4,3.46],
  [-59.0,3.36],[-55.3,3.41],[-51.4,3.45],[-50.4,3.38],[-47.6,3.35],[-46.4,3.42],[-44.0,3.39],[-42.6,3.44],[-41.1,3.37],[-39.0,3.43],
  [-37.5,3.36],[-36.9,3.41],[-34.6,3.45],[-34.4,3.38],[-32.2,3.35],[-31.4,3.42],[-29.3,3.39],[-28.2,3.44],[-26.9,3.37],[-24.9,3.43],
  [-23.5,3.36],[-22.9,3.41],[-20.6,3.45],[-20.4,3.38],[-18.1,3.35],[-17.1,3.42],[-14.5,3.39],[-12.5,3.44],[-7.2,3.37],
  [-60.5,3.28],[-57.3,3.25],[-53.4,3.32],[-52.1,3.29],[-49.3,3.34],[-48.0,3.27],[-45.5,3.33],[-44.2,3.26],[-42.7,3.31],[-40.6,3.35],
  [-39.2,3.28],[-38.6,3.25],[-36.3,3.32],[-36.2,3.29],[-34.1,3.34],[-33.4,3.27],[-31.4,3.33],[-30.4,3.26],[-29.2,3.31],[-27.3,3.35],
  [-26.0,3.28],[-25.5,3.25],[-23.3,3.32],[-23.2,3.29],[-21.1,3.34],[-20.4,3.27],[-18.3,3.33],[-17.0,3.26],[-15.3,3.31],[-12.5,3.35],
  [-9.5,3.28],[-5.1,3.25],
  [-58.0,3.19],[-55.8,3.24],[-52.4,3.17],[-51.4,3.23],[-48.6,3.16],[-47.4,3.21],[-45.0,3.25],[-43.7,3.18],[-42.3,3.15],[-40.3,3.22],
  [-38.9,3.19],[-38.3,3.24],[-36.1,3.17],[-36.0,3.23],[-33.9,3.16],[-33.2,3.21],[-31.2,3.25],[-30.2,3.18],[-29.0,3.15],[-27.1,3.22],
  [-25.8,3.19],[-25.3,3.24],[-23.1,3.17],[-23.0,3.23],[-20.9,3.16],[-20.2,3.21],[-18.1,3.25],[-17.0,3.18],[-15.5,3.15],[-13.0,3.22],
  [-10.7,3.19],[-8.3,3.24],
  [-59.5,3.11],[-56.8,3.15],[-53.4,3.08],[-52.4,3.05],[-49.6,3.12],[-48.4,3.09],[-46.0,3.14],[-44.7,3.07],[-43.3,3.13],[-41.2,3.06],
  [-39.8,3.11],[-39.2,3.15],[-37.0,3.08],[-36.9,3.05],[-34.8,3.12],[-34.1,3.09],[-32.1,3.14],[-31.1,3.07],[-29.9,3.13],[-28.0,3.06],
  [-26.7,3.11],[-26.2,3.15],[-24.0,3.08],[-23.9,3.05],[-21.8,3.12],[-21.1,3.09],[-19.0,3.14],[-17.9,3.07],[-16.5,3.13],[-14.3,3.06],
  [-12.3,3.11],[-10.5,3.15],[-5.4,3.08],
  [-58.8,2.95],[-56.2,3.02],[-52.4,2.99],[-51.2,3.04],[-48.4,2.97],[-47.2,3.03],[-44.8,2.96],[-43.5,3.01],[-42.1,3.05],[-40.0,2.98],
  [-38.6,2.95],[-38.0,3.02],[-35.8,2.99],[-35.7,3.04],[-33.6,2.97],[-32.9,3.03],[-30.9,2.96],[-29.9,3.01],[-28.7,3.05],[-26.8,2.98],
  [-25.5,2.95],[-25.0,3.02],[-22.8,2.99],[-22.7,3.04],[-20.6,2.97],[-19.9,3.03],[-17.8,2.96],[-16.7,3.01],[-15.3,3.05],[-13.1,2.98],
  [-11.3,2.95],[-9.8,3.02],
  [-56.7,2.94],[-54.3,2.87],[-50.9,2.93],[-50.0,2.86],[-47.3,2.91],[-46.2,2.95],[-43.9,2.88],[-42.7,2.85],[-41.4,2.92],[-39.4,2.89],
  [-38.0,2.94],[-37.5,2.87],[-35.3,2.93],[-35.2,2.86],[-33.1,2.91],[-32.4,2.95],[-30.4,2.88],[-29.4,2.85],[-28.2,2.92],[-26.3,2.89],
  [-25.0,2.94],[-24.5,2.87],[-22.3,2.93],[-22.2,2.86],[-20.1,2.91],[-19.4,2.95],[-17.3,2.88],[-16.1,2.85],[-14.6,2.92],[-12.2,2.89],
  [-10.0,2.94],[-8.1,2.87],
  [-59.8,2.83],[-55.3,2.76],[-51.4,2.81],[-50.5,2.85],[-47.8,2.78],[-46.7,2.75],[-44.4,2.82],[-43.2,2.79],[-41.9,2.84],[-39.9,2.77],
  [-38.5,2.83],[-37.9,2.76],[-35.7,2.81],[-35.6,2.85],[-33.5,2.78],[-32.8,2.75],[-30.8,2.82],[-29.8,2.79],[-28.6,2.84],[-26.7,2.77],
  [-25.4,2.83],[-24.9,2.76],[-22.7,2.81],[-22.6,2.85],[-20.5,2.78],[-19.8,2.75],[-17.7,2.82],[-16.5,2.79],[-15.0,2.84],[-12.6,2.77],
  [-10.5,2.83],[-8.7,2.76],[-4.9,2.81],
  [-53.0,2.75],[-50.7,2.68],[-47.6,2.65],[-46.8,2.72],[-44.2,2.69],[-43.2,2.74],[-40.9,2.67],[-39.7,2.73],[-38.3,2.66],[-36.3,2.71],
  [-34.9,2.75],[-34.3,2.68],[-32.0,2.65],[-31.8,2.72],[-29.6,2.69],[-28.8,2.74],[-26.7,2.67],[-25.6,2.73],[-24.3,2.66],[-22.3,2.71],
  [-20.9,2.75],[-20.3,2.68],[-17.9,2.65],[-17.6,2.72],[-15.2,2.69],[-14.0,2.74],[-11.3,2.67],[-9.2,2.73],[-6.6,2.66],
  [-54.5,2.62],[-51.3,2.59],[-47.9,2.64],[-46.6,2.57],[-43.6,2.63],[-42.2,2.56],[-39.7,2.61],[-38.3,2.65],[-36.7,2.58],[-34.5,2.55],
  [-32.9,2.62],[-32.1,2.59],[-29.6,2.64],[-29.2,2.57],[-26.8,2.63],[-25.8,2.56],[-23.5,2.61],[-22.2,2.65],[-20.7,2.58],[-18.5,2.55],
  [-16.8,2.62],[-15.8,2.59],[-12.9,2.64],[-11.8,2.57],[-8.4,2.63],[-5.4,2.56],[-3.1,2.61],
  [-51.5,2.46],[-50.0,2.51],[-48.1,2.55],[-45.1,2.48],[-41.7,2.45],[-40.0,2.52],[-37.2,2.49],[-35.5,2.54],[-33.8,2.47],[-31.3,2.53],
  [-29.4,2.46],[-28.2,2.51],[-25.4,2.55],[-24.7,2.48],[-22.1,2.45],[-20.7,2.52],[-18.1,2.49],[-16.4,2.54],[-14.5,2.47],[-11.6,2.53],
  [-9.1,2.46],[-7.1,2.51],[-3.1,2.55],
  [-50.4,2.38],[-46.8,2.35],[-41.9,2.42],[-40.1,2.39],[-36.9,2.44],[-35.0,2.37],[-32.0,2.43],[-30.0,2.36],[-27.9,2.41],[-25.0,2.45],
  [-22.7,2.38],[-21.1,2.35],[-17.9,2.42],[-16.8,2.39],[-13.7,2.44],[-11.6,2.37],[-8.2,2.43],[-5.8,2.36],
  [-43.5,2.29],[-39.3,2.34],[-35.2,2.27],[-33.6,2.33],[-30.2,2.26],[-28.0,2.31],[-24.5,2.35],[-22.0,2.28],[-19.4,2.25],[-16.0,2.32],
  [-13.1,2.29],[-10.8,2.34],[-6.9,2.27],
  [-39.8,2.21],[-36.8,2.25],[-32.4,2.18],[-30.2,2.15],[-26.1,2.22],[-23.0,2.19],[-18.7,2.24],[-15.2,2.17],[-12.2,2.23],[-8.4,2.16],
  [-38.1,2.09],[-36.6,2.13],[-30.8,2.06],[-27.5,2.12],[-21.7,2.05],[-17.4,2.10],[-12.7,2.14],[-9.8,2.07],[-5.8,2.11],
  [-31.3,2.03],[-19.3,1.98],[-15.9,2.04],[-12.0,1.97],
  // dense core
  [-37.9,3.36],[-33.0,3.33],[-28.7,3.38],[-24.4,3.31],
  [-41.3,3.26],[-37.4,3.23],[-34.7,3.27],[-31.8,3.22],[-27.9,3.28],[-24.4,3.21],[-21.5,3.26],
  [-40.9,3.14],[-37.8,3.17],[-35.5,3.12],[-32.8,3.16],[-30.6,3.13],[-27.7,3.18],[-24.9,3.12],[-22.3,3.16],[-19.6,3.13],
  [-41.5,3.04],[-38.2,3.07],[-36.8,3.02],[-34.4,3.06],[-31.6,3.03],[-29.4,3.08],[-27.3,3.02],[-24.1,3.06],[-21.3,3.03],[-18.7,3.07],
  [-40.8,2.94],[-37.0,2.97],[-34.1,2.92],[-31.9,2.96],[-29.7,2.93],[-27.0,2.98],[-24.4,2.92],[-21.1,2.96],[-18.1,2.93],
  [-39.2,2.84],[-36.5,2.87],[-34.1,2.82],[-31.6,2.86],[-28.9,2.83],[-26.0,2.88],[-23.8,2.82],[-21.2,2.86],
  [-37.6,2.74],[-35.7,2.77],[-33.3,2.72],[-30.5,2.76],[-27.3,2.73],[-23.6,2.77],[-21.2,2.72],
  [-36.0,2.64],[-33.3,2.67],[-30.8,2.62],[-28.0,2.66],[-24.7,2.63],
  [-34.0,2.54],[-30.7,2.57],[-27.4,2.52],[-23.3,2.56]
];
const gp4Red = [
  [0.25,3.31],[1.7,3.43],[0.25,3.15],[0.5,2.48],[0.25,2.47],[2.5,2.28],[3.5,2.52],[7.3,2.63],[9.8,2.58],[14.5,2.97],[24.3,2.61]
];
const gp4FitBlue = [[-63.4,3.42],[-1.3,2.62]];
const gp4FitRed = [[0.25,2.81],[24.3,2.62]];
const gp4FitAll = [[-63.4,3.37],[24.3,2.34]];

// ---- layout (canvas size and plot box inside each canvas) ----
const boxes = [
  {w: 610, h: 330, l: 122.5, t: 36, r: 583, b: 296, yl: 28.5},
  {w: 620, h: 330, l: 149, t: 34.5, r: 607.5, b: 294.7, yl: 30.4},
  {w: 610, h: 330, l: 123.2, t: 34, r: 586.7, b: 295, yl: 25.6},
  {w: 620, h: 330, l: 149, t: 34, r: 607.5, b: 294.7, yl: 28.5}
];

// the figure is a bit squeezed sideways, so text is drawn narrower
const SQ = 0.87;
const FONT = '"DejaVu Sans", sans-serif';

function txt(ctx, s, x, y, size, color, align) {
  ctx.save();
  ctx.font = size + 'px ' + FONT;
  ctx.fillStyle = color;
  ctx.textAlign = align;
  ctx.textBaseline = 'alphabetic';
  ctx.translate(x, y);
  ctx.scale(SQ, 1);
  ctx.fillText(s, 0, 0);
  ctx.restore();
}

function fmtX(v) {
  return v < 0 ? '\u2212' + Math.abs(v) : String(v);
}

// x label with the math part in italics: Blocking Index (K  km^-1)
function drawXLabel(ctx, cx, baseline) {
  const parts = [
    {s: 'Blocking Index (', f: '12.6px ' + FONT, rise: 0},
    {s: 'K', f: 'italic 12.6px "DejaVu Serif", serif', rise: 0, gap: 6},
    {s: 'km', f: 'italic 12.6px "DejaVu Serif", serif', rise: 0},
    {s: '\u22121', f: '8.8px ' + FONT, rise: 5},
    {s: ')', f: '12.6px ' + FONT, rise: 0}
  ];
  let total = 0;
  parts.forEach(p => {
    ctx.font = p.f;
    p.w = ctx.measureText(p.s).width + (p.gap || 0);
    total += p.w;
  });
  ctx.save();
  ctx.fillStyle = '#000';
  ctx.textAlign = 'left';
  ctx.textBaseline = 'alphabetic';
  ctx.translate(cx, baseline);
  ctx.scale(SQ, 1);
  let x = -total / 2;
  parts.forEach(p => {
    ctx.font = p.f;
    ctx.fillText(p.s, x, -p.rise);
    x += p.w;
  });
  ctx.restore();
}

const panelDecor = {
  id: 'panelDecor',
  afterDatasetsDraw(chart, args, o) {
    const {ctx, chartArea: a, scales: {x, y}} = chart;
    const w = a.right - a.left;
    const L = Math.round(a.left) + 0.5, T = Math.round(a.top) + 0.5;
    const R = Math.round(a.right) + 0.5, B = Math.round(a.bottom) + 0.5;

    // frame + inward ticks
    ctx.save();
    ctx.strokeStyle = '#666';
    ctx.lineWidth = 1;
    ctx.beginPath();
    ctx.rect(L, T, R - L, B - T);
    x.ticks.forEach(t => {
      const p = Math.round(x.getPixelForValue(t.value)) + 0.5;
      ctx.moveTo(p, B); ctx.lineTo(p, B - 4);
      ctx.moveTo(p, T); ctx.lineTo(p, T + 4);
    });
    y.ticks.forEach(t => {
      const p = Math.round(y.getPixelForValue(t.value)) + 0.5;
      ctx.moveTo(L, p); ctx.lineTo(L + 4, p);
      ctx.moveTo(R, p); ctx.lineTo(R - 4, p);
    });
    ctx.stroke();
    ctx.restore();

    // tick labels
    x.ticks.forEach(t => txt(ctx, fmtX(t.value), x.getPixelForValue(t.value), a.bottom + 13, 13.5, '#000', 'center'));
    y.ticks.forEach(t => txt(ctx, t.value.toFixed(1), a.left - 2.5, y.getPixelForValue(t.value) + 5, 13.5, '#000', 'right'));

    // title and coefficients
    txt(ctx, o.title, (a.left + a.right) / 2, a.top - 6.5, 15.7, '#000', 'center');
    txt(ctx, 'Corellation Coefficient: ' + o.blue, a.left + 0.05 * w, a.top + 13, 13.1, '#0000ff', 'left');
    txt(ctx, 'Overall Corellation Coefficient: ' + o.all, a.right - 0.05 * w, a.top + 13, 13.1, '#000', 'right');
    txt(ctx, 'Corellation Coefficient: ' + o.red, a.right - 0.05 * w, a.bottom - 2, 13.1, '#ff0000', 'right');

    // axis titles
    drawXLabel(ctx, (a.left + a.right) / 2, a.bottom + 28.5);
    ctx.save();
    ctx.fillStyle = '#000';
    ctx.font = '12.6px ' + FONT;
    ctx.textAlign = 'center';
    ctx.textBaseline = 'middle';
    ctx.translate(a.left - o.ylOffset, (a.top + a.bottom) / 2);
    ctx.rotate(-Math.PI / 2);
    ctx.scale(1, SQ);
    ctx.fillText('log[PM10] daily mean)', 0, 0);
    ctx.restore();
  }
};

const xy = arr => arr.map(([x, y]) => ({x, y}));

function makePanel(id, i, blue, red, fitBlue, fitRed, fitAll, xTicks) {
  const box = boxes[i];
  return new Chart(document.getElementById(id), {
    type: 'scatter',
    data: {
      datasets: [
        {data: xy(fitAll), showLine: true, borderColor: '#111', borderWidth: 1, pointRadius: 0, order: 0},
        {data: xy(fitBlue), showLine: true, borderColor: '#4040ff', borderWidth: 1, pointRadius: 0, order: 1},
        {data: xy(fitRed), showLine: true, borderColor: '#ff4040', borderWidth: 1, pointRadius: 0, order: 1},
        {data: xy(red), pointRadius: 1.6, pointBackgroundColor: '#c81212', pointBorderWidth: 0, order: 2},
        {data: xy(blue), pointRadius: 1.6, pointBackgroundColor: '#1010c0', pointBorderWidth: 0, order: 3}
      ]
    },
    options: {
      responsive: false,
      animation: false,
      events: [],
      layout: {padding: {left: 0, top: box.t, right: box.w - box.r, bottom: 0}},
      plugins: {
        legend: {display: false},
        tooltip: {enabled: false},
        panelDecor: {
          title: 'PM10 daily mean concentrations vs Blocking Index over ' + gpNames[i],
          blue: blueCoef[i], all: allCoef[i], red: redCoef[i], ylOffset: box.yl
        }
      },
      scales: {
        x: {
          type: 'linear', min: xRanges[i][0], max: xRanges[i][1],
          grid: {display: false, drawTicks: false}, border: {display: false},
          ticks: {display: false},
          afterBuildTicks: s => { s.ticks = xTicks.map(v => ({value: v})); },
          afterFit: s => { s.height = box.h - box.b; }
        },
        y: {
          type: 'linear', min: 1, max: 5,
          grid: {display: false, drawTicks: false}, border: {display: false},
          ticks: {display: false},
          afterBuildTicks: s => { s.ticks = yTicks.map(v => ({value: v})); },
          afterFit: s => { s.width = box.l; }
        }
      }
    },
    plugins: [panelDecor]
  });
}

makePanel('gp1', 0, gp1Blue, gp1Red, gp1FitBlue, gp1FitRed, gp1FitAll, xTicks1);
makePanel('gp2', 1, gp2Blue, gp2Red, gp2FitBlue, gp2FitRed, gp2FitAll, xTicks2);
makePanel('gp3', 2, gp3Blue, gp3Red, gp3FitBlue, gp3FitRed, gp3FitAll, xTicks3);
makePanel('gp4', 3, gp4Blue, gp4Red, gp4FitBlue, gp4FitRed, gp4FitAll, xTicks4);
</script>
</body>
</html>
